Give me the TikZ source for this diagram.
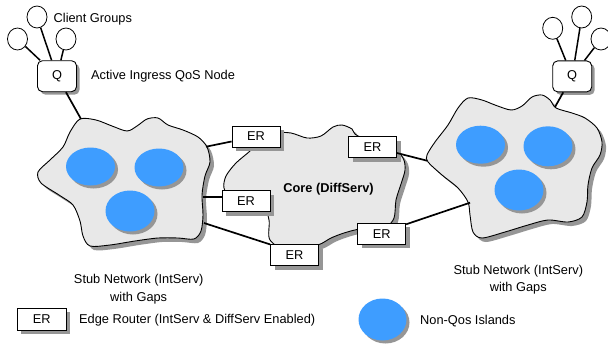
\documentclass[tikz,border=0pt]{standalone}
\usepackage{fontspec}
\setmainfont{Liberation Sans}
\usetikzlibrary{shapes.geometric,shadows,calc}
\definecolor{cloudfill}{RGB}{232,232,232}
\definecolor{islandblue}{RGB}{62,157,255}
\definecolor{shadowgray}{RGB}{150,150,150}
\begin{document}
\begin{tikzpicture}[x=1pt,y=-1pt,
  font=\fontsize{12.8}{17.5}\selectfont,
  cloud/.style={draw=black, line width=0.9pt, fill=cloudfill,
    drop shadow={shadow xshift=4pt,shadow yshift=-4pt,fill=shadowgray,opacity=1}},
  island/.style={ellipse, fill=islandblue, minimum width=49pt, minimum height=38pt, inner sep=0pt,
    drop shadow={shadow xshift=3pt,shadow yshift=-3pt,fill=shadowgray,opacity=1}},
  erbox/.style={rectangle, draw=black, line width=0.8pt, fill=white, minimum width=48pt,
    minimum height=21pt, inner sep=0pt,
    drop shadow={shadow xshift=4pt,shadow yshift=-4pt,fill=shadowgray,opacity=1}},
  qbox/.style={rectangle, rounded corners=5pt, draw=black, line width=0.9pt, fill=white,
    minimum width=39pt, minimum height=31pt, inner sep=0pt,
    drop shadow={shadow xshift=3pt,shadow yshift=-3pt,fill=shadowgray,opacity=1}},
  client/.style={ellipse, draw=black, line width=0.8pt, fill=white, minimum width=20pt,
    minimum height=22pt, inner sep=0pt},
  link/.style={line width=1.7pt},
  txt/.style={inner sep=0pt, anchor=west}
]
\useasboundingbox (0,0) rectangle (608,343);

% clouds
\draw[cloud] plot[smooth cycle] coordinates {(80,119) (96,120) (112,126) (127,131) (137,126) (147,119) (158,118) (168,125) (183,130) (198,137) (207,147) (210,162) (205,176) (202,195) (203,215) (201,231) (194,239) (178,238) (158,238) (135,241) (110,245) (90,246) (83,236) (80,221) (73,205) (59,195) (41,183) (38,172) (50,160) (63,147) (70,132)};
\draw[cloud] plot[smooth cycle] coordinates {(250,151) (236,163) (226,176) (224,188) (232,198) (262,205) (269,220) (270,240) (290,252) (318,245) (331,238) (344,233) (360,229) (385,227) (394,218) (396,200) (401,184) (405,170) (403,158) (390,145) (358,136) (352,129) (342,125) (333,127) (321,136) (307,138) (291,133) (275,133) (260,140)};
\draw[cloud] plot[smooth cycle] coordinates {(468,98) (482,100) (495,105) (511,110) (522,106) (532,97) (542,95) (550,100) (556,108) (572,113) (585,118) (597,128) (602,142) (600,155) (592,168) (588,185) (587,202) (582,217) (568,222) (548,220) (528,225) (505,232) (482,238) (473,232) (470,215) (468,202) (458,188) (442,175) (428,162) (427,155) (435,142) (448,125) (458,108)};

\node[font=\fontsize{12.8}{15}\bfseries] (core) at (328.5,189.5) {Core (DiffServ)};

% islands
\node[island] (l1) at (90.5,166.5) {};
\node[island] (l2) at (159,167.5) {};
\node[island, minimum height=41pt] (l3) at (130,211) {};
\node[island] (r1) at (480.5,144.7) {};
\node[island, minimum height=40pt] (r2) at (548,146.3) {};
\node[island, minimum height=41pt] (r3) at (519,190) {};

% connection points on clouds
\coordinate (lctop) at (81,119);
\coordinate (rctop) at (555,107);
\coordinate (lc1) at (206,146.7);
\coordinate (lc2) at (203,196.7);
\coordinate (lc3) at (204,223);
\coordinate (rc1) at (427,160.7);
\coordinate (rc2) at (470,202.7);

% edge routers
\node[erbox] (er1) at (256,136.5) {ER};
\node[erbox] (er2) at (372.5,147) {ER};
\node[erbox] (er3) at (246,201.2) {ER};
\node[erbox] (er4) at (294.5,255.3) {ER};
\node[erbox] (er5) at (381.7,233.7) {ER};

\draw[link] (lc1) -- (er1);
\draw[link] (lc2) -- (lc2 -| er3.west);
\draw[link] (lc3) -- (er4.north west);
\draw[link] ($(er2.east)+(0,6)$) -- (rc1);
\draw[link] ($(er5.north east)+(0,1.5)$) -- (rc2);

% Q nodes
\node[qbox] (q1) at (57,76.2) {Q};
\node[qbox] (q2) at (572.2,76.4) {Q};
\draw[link] (q1) -- (lctop);
\draw[link] (q2) -- (rctop);

% client groups
\node[client] (c1) at (17.5,39) {};
\node[client] (c2) at (37,17) {};
\node[client] (c3) at (66,39) {};
\node[client] (c4) at (552.7,28.3) {};
\node[client] (c5) at (581.7,17) {};
\node[client] (c6) at (601,39) {};
\foreach \c/\q in {c1/q1,c2/q1,c3/q1,c4/q2,c5/q2,c6/q2}
  \draw[line width=1.5pt] (\c) -- (\q);

% texts
\node[txt] (tclient) at (53.5,19.5) {Client Groups};
\node[txt] (tactive) at (91,76.5) {Active Ingress QoS Node};
\node[align=center, inner sep=0pt] (tstub1) at (138.7,289) {Stub Network (IntServ)\\with Gaps};
\node[align=center, inner sep=0pt] (tstub2) at (518.3,279.5) {Stub Network (IntServ)\\with Gaps};

% legend
\node[erbox, minimum width=48.5pt, minimum height=22pt] (erleg) at (41.7,319) {ER};
\node[txt] (terleg) at (79,320) {Edge Router (IntServ \& DiffServ Enabled)};
\node[island, minimum height=42pt, minimum width=48pt] (isleg) at (382.5,319.5) {};
\node[txt] (tisleg) at (420,321) {Non-Qos Islands};
\end{tikzpicture}
\end{document}
